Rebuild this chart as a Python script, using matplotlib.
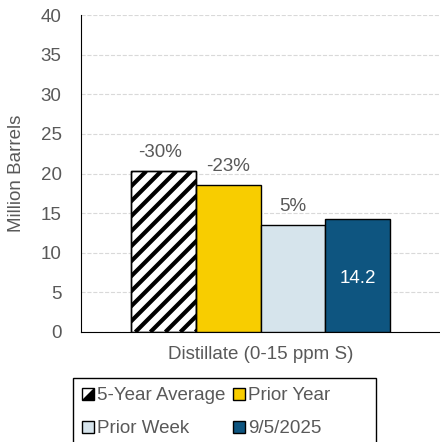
import numpy as np
import matplotlib
matplotlib.use('Agg')
import matplotlib.pyplot as plt
from matplotlib.patches import Patch, Polygon, Rectangle
from matplotlib.collections import LineCollection
from matplotlib.legend_handler import HandlerBase

plt.rcParams['font.family'] = ['Liberation Sans', 'DejaVu Sans']

category = 'Distillate (0-15 ppm S)'
series = ['5-Year Average', 'Prior Year', 'Prior Week', '9/5/2025']
values = [20.3, 18.5, 13.5, 14.2]
pct_labels = ['-30%', '-23%', '5%', None]
colors = ['white', '#F8CD00', '#D6E4EC', '#0E5580']

fig = plt.figure(figsize=(4.4, 4.42), dpi=100)
ax = fig.add_axes([81 / 440, 110 / 442, 359 / 440, 317 / 442])

gray = '#595959'
fs = 13.5
width = 0.18
offsets = (np.arange(len(series)) - 1.5) * width
bars = []
for i, s in enumerate(series):
    b = ax.bar(offsets[i], values[i], width=width, color=colors[i],
               edgecolor='black', linewidth=1.0, zorder=3)
    bars.append(b[0])
    if pct_labels[i]:
        ax.text(offsets[i] - 0.01 if i == 0 else offsets[i], values[i] + 1.3,
                pct_labels[i], ha='center', va='bottom', fontsize=fs, color=gray)
ax.text(offsets[3], values[3] / 2 - 0.3, f'{values[3]:.1f}', ha='center', va='center',
        fontsize=fs, color='white', zorder=4)

ax.set_xlim(-0.5, 0.5)
ax.set_ylim(0, 40)
ax.set_yticks(range(0, 41, 5))
ax.set_xticks([0])
ax.set_xticklabels([category])
ax.tick_params(axis='both', length=0, labelsize=fs, labelcolor=gray)
ax.tick_params(axis='y', pad=14)
ax.tick_params(axis='x', pad=10)
ax.set_ylabel('Million Barrels', fontsize=fs, color=gray)
ax.yaxis.set_label_coords(-56 / 359, 0.5)
ax.yaxis.grid(True, linestyle='--', color='#D9D9D9', linewidth=0.8, zorder=0)
ax.set_axisbelow(True)
for side in ['top', 'right']:
    ax.spines[side].set_visible(False)
ax.spines['left'].set_color('black')
ax.spines['bottom'].set_color('black')

# diagonal stripes on the 5-year bar, drawn in pixel space and clipped to the bar
bar = bars[0]
(px0, py0), (px1, py1) = ax.transData.transform(
    [[bar.get_x(), 0], [bar.get_x() + bar.get_width(), bar.get_height()]])
step = 15
segs = []
for c in np.arange(px0 - (py1 - py0), px1 + step, step):
    segs.append([(c, py0), (c + (py1 - py0), py1)])
stripes = LineCollection(segs, colors='black', linewidths=3.0, transform=None, zorder=3.5)
ax.add_collection(stripes)
stripes.set_clip_path(bar)
ax.bar(offsets[0], values[0], width=width, color='none', edgecolor='black',
       linewidth=1.0, zorder=4)


class HalfSquare(HandlerBase):
    def create_artists(self, legend, orig, xd, yd, w, h, fontsize, trans):
        x, y = -xd, -yd
        bg = Rectangle((x, y), w, h, facecolor='white', edgecolor='none', transform=trans)
        tri = Polygon([(x, y), (x + w, y), (x + w, y + h)], closed=True,
                      facecolor='black', edgecolor='none', transform=trans)
        box = Rectangle((x, y), w, h, facecolor='none', edgecolor='black',
                        linewidth=1.0, transform=trans)
        return [bg, tri, box]


# legend is filled row by row in the reference
order = [0, 2, 1, 3]
handles = [Patch(facecolor=colors[i], edgecolor='black', linewidth=1.0) for i in order]
labels = [series[i] for i in order]
leg = fig.legend(handles, labels, loc='upper left', bbox_to_anchor=(73 / 440, 64 / 442),
                 ncol=2, fontsize=fs, frameon=False,
                 handlelength=0.6, handleheight=0.6, handletextpad=0.2,
                 columnspacing=0.4, labelspacing=0.85, borderpad=0.5, borderaxespad=0,
                 handler_map={handles[0]: HalfSquare()})
for t in leg.get_texts():
    t.set_color(gray)
# wider legend box, running off the bottom of the image
fig.patches.append(Rectangle((73 / 440, -10 / 442), 303 / 440, 74 / 442,
                             transform=fig.transFigure, facecolor='none',
                             edgecolor='black', linewidth=1.0))

fig.savefig('out.png', dpi=100)
